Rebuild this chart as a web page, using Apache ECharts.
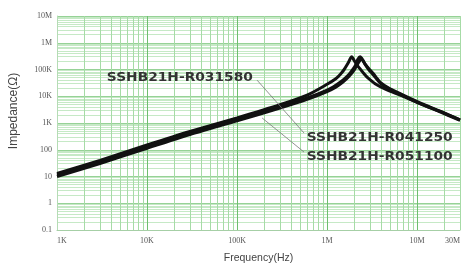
<!DOCTYPE html>
<html><head><meta charset="utf-8">
<script src="https://cdn.jsdelivr.net/npm/echarts@6/dist/echarts.min.js"></script>
<style>html,body{margin:0;padding:0;background:#fff}#c{width:466px;height:269px}</style>
</head><body><div id="c"></div>
<script>
// ---- tick labels ----
const xTickValues = [1e3, 1e4, 1e5, 1e6, 1e7, 3e7];
const xTickLabels = ['1K', '10K', '100K', '1M', '10M', '30M'];
const yTickValues = [0.1, 1, 10, 100, 1e3, 1e4, 1e5, 1e6, 1e7];
const yTickLabels = ['0.1', '1', '10', '100', '1K', '10K', '100K', '1M', '10M'];

// ---- series ----
const seriesNames = ['SSHB21H-R031580', 'SSHB21H-R041250', 'SSHB21H-R051100'];

const freqA = [1e3, 3e3, 1e4, 3e4, 1e5, 3e5, 6e5, 1e6, 1.25e6, 1.4e6, 1.55e6, 1.65e6, 1.75e6, 1.82e6, 1.88e6, 1.95e6, 2.05e6, 2.15e6, 2.33e6, 2.55e6, 2.75e6, 3.0e6, 3.5e6, 3.9e6, 5e6, 6.5e6, 1.08e7, 1.8e7, 3e7];
const zA    = [13, 40, 150, 480, 1550, 4800, 11000, 28000, 45000, 65000, 100000, 140000, 200000, 265000, 300000, 255000, 190000, 150000, 105000, 72000, 54000, 42000, 28000, 23000, 15500, 11000, 5300, 2700, 1300];

const freqB = [1e3, 3e3, 1e4, 3e4, 1e5, 3e5, 6e5, 1e6, 1.25e6, 1.5e6, 1.75e6, 1.97e6, 2.1e6, 2.2e6, 2.33e6, 2.42e6, 2.5e6, 2.65e6, 2.9e6, 3.2e6, 3.5e6, 3.9e6, 5e6, 6.5e6, 1.08e7, 1.8e7, 3e7];
const zB    = [11.4, 35, 131, 423, 1375, 4100, 8600, 17000, 26000, 40000, 65000, 110000, 160000, 240000, 300000, 265000, 220000, 160000, 110000, 75000, 52000, 33000, 19000, 12500, 5600, 2800, 1320];

const freqC = [1e3, 3e3, 1e4, 3e4, 1e5, 3e5, 6e5, 1e6, 1.25e6, 1.5e6, 1.75e6, 2.0e6, 2.15e6, 2.28e6, 2.4e6, 2.5e6, 2.65e6, 2.9e6, 3.2e6, 3.9e6, 5e6, 6.5e6, 1.08e7, 1.8e7, 3e7];
const zC    = [10, 30.5, 114, 370, 1200, 3600, 7600, 15000, 22000, 34000, 55000, 95000, 145000, 200000, 255000, 220000, 155000, 100000, 68000, 31000, 18000, 11800, 5300, 2600, 1250];

// ---- annotation anchors (data space) ----
const labelAnchors = [[150e3, 48e3], [594e3, 275], [594e3, 54]];
const labelAligns = ['right', 'left', 'left'];
const leaderLines = [
  [[167e3, 4e4], [555e3, 423]],
  [[190e3, 1540], [555e3, 82]]
];

// grid line values (1..9 per decade)
const xGrid = [];
for (let e = 3; e < 7; e++) for (let m = 1; m < 10; m++) xGrid.push(m * Math.pow(10, e));
xGrid.push(1e7, 2e7, 3e7);
const yGrid = [];
for (let e = -1; e < 7; e++) for (let m = 1; m < 10; m++) yGrid.push(+(m * Math.pow(10, e)).toPrecision(6));
yGrid.push(1e7);

const xColors = ['#6fbf6f'].concat(new Array(8).fill('#a6dba6'));
const yColors = ['#96d296'].concat(new Array(8).fill('#c6e9c6'));

function pairs(f, z) { return f.map((v, i) => [v, z[i]]); }
function fmt(vals, labs) { return v => { const i = vals.findIndex(t => Math.abs(t - v) / t < 1e-6); return i >= 0 ? labs[i] : ''; }; }

const chart = echarts.init(document.getElementById('c'), null, { renderer: 'canvas' });
const lineStyle = { color: '#111', width: 3 };
const option = {
  animation: false,
  backgroundColor: '#fff',
  grid: { left: 57, right: 6, top: 16, bottom: 39, containLabel: false },
  xAxis: {
    type: 'log', logBase: 10, min: 1e3, max: 3e7,
    name: 'Frequency(Hz)', nameLocation: 'middle', nameGap: 23,
    nameTextStyle: { fontFamily: 'Liberation Sans', fontSize: 10.5, color: '#444' },
    axisLine: { show: true, lineStyle: { color: '#a6cfa6', width: 1 } },
    axisTick: { show: false, customValues: xGrid },
    axisLabel: { customValues: xTickValues, formatter: fmt(xTickValues, xTickLabels), fontFamily: 'Liberation Serif', fontSize: 8, color: '#555', margin: 7, alignMinLabel: 'left', alignMaxLabel: 'right' },
    splitLine: { show: true, lineStyle: { color: xColors, width: 1 } }
  },
  yAxis: {
    type: 'log', logBase: 10, min: 0.1, max: 1e7,
    name: 'Impedance(Ω)', nameLocation: 'middle', nameGap: 37,
    nameTextStyle: { fontFamily: 'Liberation Sans', fontSize: 12, color: '#444', padding: [0, 0, 0, 24] },
    axisLine: { show: true, lineStyle: { color: '#b5dcb5', width: 1 } },
    axisTick: { show: false, customValues: yGrid },
    axisLabel: { customValues: yTickValues, formatter: fmt(yTickValues, yTickLabels), fontFamily: 'Liberation Serif', fontSize: 8, color: '#555', margin: 5 },
    splitLine: { show: true, lineStyle: { color: yColors, width: 1 } }
  },
  series: [
    { name: seriesNames[0], type: 'line', data: pairs(freqA, zA), showSymbol: false, symbol: 'none', smooth: 0.25, lineStyle: lineStyle, z: 3,
      markLine: { silent: true, symbol: ['none', 'none'], label: { show: false }, lineStyle: { color: '#777', width: 0.8, type: 'solid' },
        data: leaderLines.map(l => [{ coord: l[0] }, { coord: l[1] }]) } },
    { name: seriesNames[1], type: 'line', data: pairs(freqB, zB), showSymbol: false, symbol: 'none', smooth: 0.25, lineStyle: lineStyle, z: 3 },
    { name: seriesNames[2], type: 'line', data: pairs(freqC, zC), showSymbol: false, symbol: 'none', smooth: 0.25, lineStyle: lineStyle, z: 3 }
  ]
};
chart.setOption(option);

const graphics = labelAnchors.map((a, i) => {
  const p = chart.convertToPixel({ gridIndex: 0 }, a);
  return { type: 'text', x: p[0], y: p[1], scaleX: 1.2, z: 10,
    style: { text: seriesNames[i], font: 'bold 11.5px "DejaVu Sans"', fill: '#333', align: labelAligns[i], verticalAlign: 'middle' } };
});
chart.setOption({ graphic: graphics });
</script>
</body></html>
